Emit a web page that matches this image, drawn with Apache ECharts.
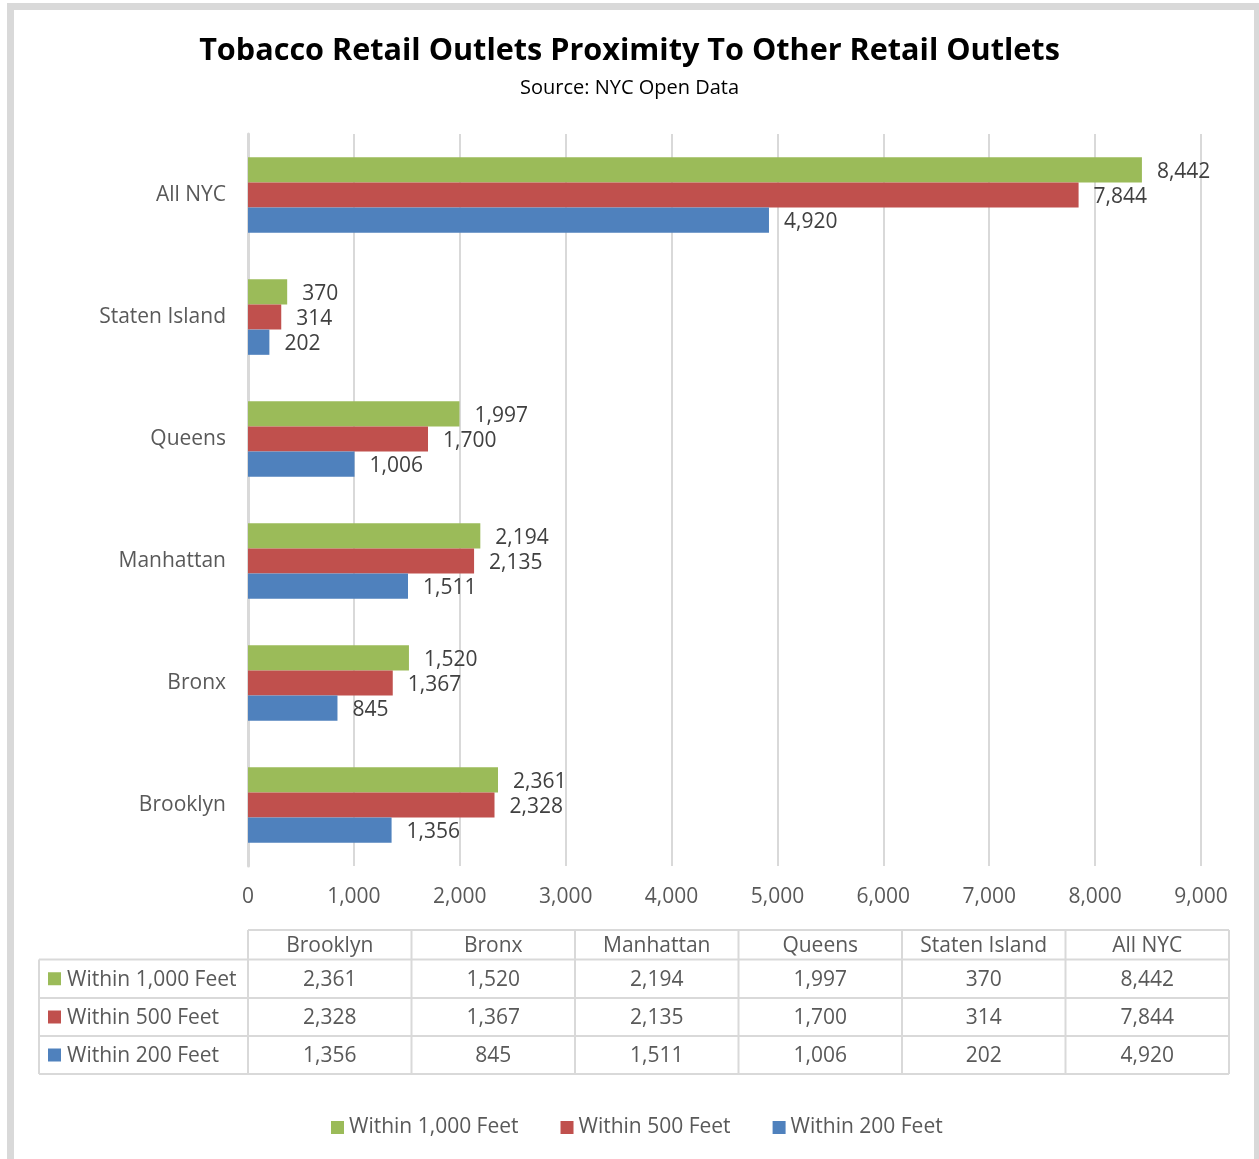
<!DOCTYPE html>
<html>
<head>
<meta charset="utf-8">
<script src="https://cdn.jsdelivr.net/npm/echarts@6/dist/echarts.min.js"></script>
<style>
  html, body { margin: 0; padding: 0; background: #fff; }
  #chart { width: 1259px; height: 1159px; }
</style>
</head>
<body>
<div id="chart"></div>
<script>
// Boroughs, listed bottom-to-top on the category axis (and left-to-right in the table)
const categories = ['Brooklyn', 'Bronx', 'Manhattan', 'Queens', 'Staten Island', 'All NYC'];

// Tobacco outlets within a given distance of another retail outlet
const within1000 = [2361, 1520, 2194, 1997, 370, 8442];
const within500  = [2328, 1367, 2135, 1700, 314, 7844];
const within200  = [1356, 845, 1511, 1006, 202, 4920];

const seriesNames = ['Within 1,000 Feet', 'Within 500 Feet', 'Within 200 Feet'];
const seriesValues = [within1000, within500, within200];
const seriesColors = ['#9BBB59', '#C0504D', '#4F81BD'];

// x-axis ticks
const xMin = 0, xMax = 9000, xStep = 1000;

const FONT = '"Open Sans", Lato, sans-serif';
const FS = 21;
const fmt = v => v.toLocaleString('en-US');

// ---- data table under the chart ----
const tbl = {
  left: 39, labelRight: 248, right: 1229,
  headerTop: 930, rowTops: [959.5, 998, 1036], bottom: 1074
};
const colW = (tbl.right - tbl.labelRight) / categories.length;
const lineStyle = { stroke: '#d9d9d9', lineWidth: 2 };
const tableEls = [];
// horizontal rules
tableEls.push({ type: 'line', shape: { x1: tbl.labelRight, y1: tbl.headerTop, x2: tbl.right, y2: tbl.headerTop }, style: lineStyle });
[...tbl.rowTops, tbl.bottom].forEach(y => {
  tableEls.push({ type: 'line', shape: { x1: tbl.left, y1: y, x2: tbl.right, y2: y }, style: lineStyle });
});
// vertical rules
tableEls.push({ type: 'line', shape: { x1: tbl.left, y1: tbl.rowTops[0], x2: tbl.left, y2: tbl.bottom }, style: lineStyle });
for (let i = 0; i <= categories.length; i++) {
  const x = tbl.labelRight + i * colW;
  tableEls.push({ type: 'line', shape: { x1: x, y1: tbl.headerTop, x2: x, y2: tbl.bottom }, style: lineStyle });
}
// header
categories.forEach((c, i) => {
  tableEls.push({ type: 'text', style: {
    text: c, x: tbl.labelRight + (i + 0.5) * colW, y: (tbl.headerTop + tbl.rowTops[0]) / 2 + 1,
    align: 'center', verticalAlign: 'middle', fontSize: FS, fontFamily: FONT, fill: '#595959' } });
});
// rows
const rowBounds = [...tbl.rowTops, tbl.bottom];
seriesNames.forEach((name, r) => {
  const cy = (rowBounds[r] + rowBounds[r + 1]) / 2;
  tableEls.push({ type: 'rect', shape: { x: 48, y: cy - 6.5, width: 13, height: 13 }, style: { fill: seriesColors[r] } });
  tableEls.push({ type: 'text', style: {
    text: name, x: 67, y: cy + 1, align: 'left', verticalAlign: 'middle',
    fontSize: FS, fontFamily: FONT, fill: '#595959' } });
  seriesValues[r].forEach((v, i) => {
    tableEls.push({ type: 'text', style: {
      text: fmt(v), x: tbl.labelRight + (i + 0.5) * colW, y: cy + 1,
      align: 'center', verticalAlign: 'middle', fontSize: FS, fontFamily: FONT, fill: '#595959' } });
  });
});

// outer frame
const frame = { type: 'rect', shape: { x: 10.5, y: 6.5, width: 1247, height: 1200 },
  style: { fill: 'none', stroke: '#d9d9d9', lineWidth: 7 }, z: 100 };

// bars: first-listed series sits at the top of each group
const series = seriesNames.map((name, k) => ({
  name: name,
  type: 'bar',
  data: seriesValues[k],
  itemStyle: { color: seriesColors[k] },
  barGap: '0%',
  barCategoryGap: '38%',
  label: {
    show: true, position: 'right', distance: 15, offset: [0, 2],
    formatter: p => fmt(p.value),
    fontSize: FS, fontFamily: FONT, color: '#404040'
  }
}));

const chart = echarts.init(document.getElementById('chart'));
chart.setOption({
  backgroundColor: '#fff',
  animation: false,
  title: {
    text: 'Tobacco Retail Outlets Proximity To Other Retail Outlets',
    subtext: 'Source: NYC Open Data',
    left: 'center', top: 31, itemGap: 11,
    textStyle: { fontSize: 30.6, fontWeight: 'bold', fontFamily: FONT, color: '#000' },
    subtextStyle: { fontSize: 20, fontFamily: FONT, color: '#000' }
  },
  legend: {
    data: seriesNames,
    left: 326, top: 1112,
    icon: 'rect', itemWidth: 13, itemHeight: 13, itemGap: 42,
    textStyle: { fontSize: FS, fontFamily: FONT, color: '#595959' }
  },
  grid: { left: 248, right: 58, top: 134, bottom: 293, containLabel: false },
  xAxis: {
    type: 'value', min: xMin, max: xMax, interval: xStep,
    axisLine: { show: false }, axisTick: { show: false },
    axisLabel: { fontSize: FS, fontFamily: FONT, color: '#595959', margin: 21, formatter: v => fmt(v) },
    splitLine: { show: true, lineStyle: { color: '#d9d9d9', width: 2 } }
  },
  yAxis: {
    type: 'category', data: categories,
    axisLine: { show: true, lineStyle: { color: '#d9d9d9', width: 3 } },
    axisTick: { show: false },
    axisLabel: { fontSize: FS, fontFamily: FONT, color: '#595959', margin: 22, padding: [4, 0, 0, 0] }
  },
  series: series,
  graphic: [...tableEls, frame]
});
</script>
</body>
</html>
